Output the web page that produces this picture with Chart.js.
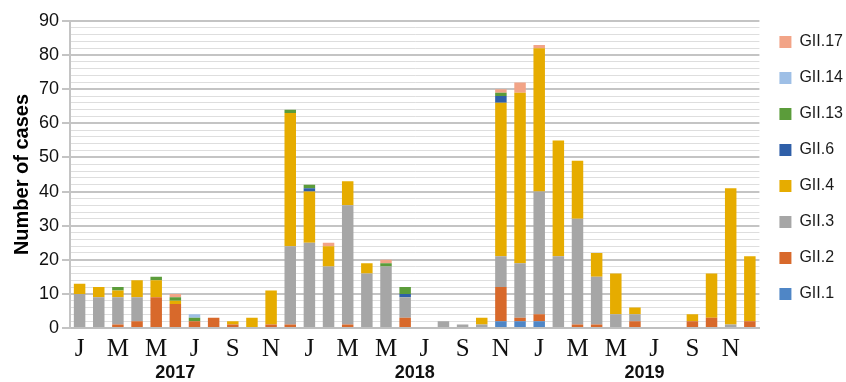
<!DOCTYPE html>
<html><head><meta charset="utf-8">
<script src="https://cdn.jsdelivr.net/npm/chart.js@4.4.1/dist/chart.umd.min.js"></script>
<style>html,body{margin:0;padding:0;background:#fff}#wrap{width:846px;height:382px;position:relative}</style>
</head><body><div id="wrap"><canvas id="c" width="846" height="382"></canvas></div>
<script>
const categories = ['J','F','M','A','M','J','J','A','S','O','N','D',
                    'J','F','M','A','M','J','J','A','S','O','N','D',
                    'J','F','M','A','M','J','J','A','S','O','N','D'];
const years = ['2017','2018','2019'];
const yTicks = [0,10,20,30,40,50,60,70,80,90];

const gii1  = [0,0,0,0,0,0,0,0,0,0,0,0,  0,0,0,0,0,0,0,0,0,0,2,2,  2,0,0,0,0,0,0,0,0,0,0,0];
const gii2  = [0,0,1,2,9,7,2,3,1,0,1,1,  0,0,1,0,0,3,0,0,0,0,10,1, 2,0,1,1,0,2,0,0,2,3,0,2];
const gii3  = [10,9,8,7,0,0,0,0,0,0,0,23, 25,18,35,16,18,6,0,2,1,1,9,16, 36,21,31,14,4,2,0,0,0,0,1,0];
const gii4  = [3,3,2,5,5,1,0,0,1,3,10,39, 15,6,7,3,0,0,0,0,0,2,45,50, 42,34,17,7,12,2,0,0,2,13,40,19];
const gii6  = [0,0,0,0,0,0,0,0,0,0,0,0,  1,0,0,0,0,1,0,0,0,0,2,0,  0,0,0,0,0,0,0,0,0,0,0,0];
const gii13 = [0,0,1,0,1,1,1,0,0,0,0,1,  1,0,0,0,1,2,0,0,0,0,1,0,  0,0,0,0,0,0,0,0,0,0,0,0];
const gii14 = [0,0,0,0,0,0,1,0,0,0,0,0,  0,0,0,0,0,0,0,0,0,0,0,0,  0,0,0,0,0,0,0,0,0,0,0,0];
const gii17 = [0,0,0,0,0,1,0,0,0,0,0,0,  0,1,0,0,1,0,0,0,0,0,1,3,  1,0,0,0,0,0,0,0,0,0,0,0];

const seriesNames = ['GII.1','GII.2','GII.3','GII.4','GII.6','GII.13','GII.14','GII.17'];
const seriesData = [gii1, gii2, gii3, gii4, gii6, gii13, gii14, gii17];
const seriesColors = ['#4f86c6','#d8692b','#a6a6a6','#e6ac00','#2f5fa8','#5b9c3a','#9ebfe6','#f2a487'];

const yearPos = [5, 17.5, 29.5];

const datasets = seriesNames.map((n,i)=>({
  label:n, data:seriesData[i], backgroundColor:seriesColors[i], borderWidth:0,
  categoryPercentage:1.0, barPercentage:0.6, xAxisID:'x', yAxisID:'y'
}));

const clear = 'rgba(0,0,0,0)';

new Chart(document.getElementById('c'), {
  type:'bar',
  data:{labels:categories, datasets},
  options:{
    responsive:false, animation:false,
    layout:{padding:{top:21,right:-7,left:0,bottom:2}},
    plugins:{
      tooltip:{enabled:false},
      legend:{
        position:'right', reverse:true, align:'start', fullSize:true,
        title:{display:true, text:'', padding:{top:0, bottom:-8}, font:{size:1, lineHeight:1}},
        labels:{boxWidth:12, boxHeight:12, padding:20, color:'#1a1a1a',
          font:{family:'"Liberation Sans", Arial, sans-serif', size:16}}
      }
    },
    scales:{
      x:{
        stacked:true, position:'bottom', weight:0,
        grid:{display:true, drawOnChartArea:false, drawTicks:true, tickLength:12, color:clear, tickColor:clear},
        border:{display:true, color:'#bfbfbf', width:2},
        ticks:{autoSkip:false, maxRotation:0, minRotation:0, padding:0, color:'#111',
          font:{family:'"Liberation Serif", "Times New Roman", serif', size:25, lineHeight:0.72},
          callback:(v,i)=> i%2===0 ? categories[i] : ''}
      },
      yr:{
        type:'linear', position:'bottom', weight:1, min:-0.5, max:35.5,
        offset:false, bounds:'data',
        grid:{display:true, drawOnChartArea:false, drawTicks:true, tickLength:8, color:clear, tickColor:clear, offset:false},
        border:{display:false},
        afterBuildTicks:(ax)=>{ ax.ticks = yearPos.map(v=>({value:v})); },
        ticks:{autoSkip:false, maxRotation:0, padding:0, color:'#111',
          font:{family:'"Liberation Sans", Arial, sans-serif', size:18, weight:'bold', lineHeight:0.7778},
          callback:(v)=>{ const k = yearPos.indexOf(v); return k>=0 ? years[k] : ''; }}
      },
      y:{
        stacked:true, min:0, max:90,
        grid:{
          color:(c)=> c.tick && c.tick.value%10===0 ? '#c4c4c4' : '#dedede',
          lineWidth:(c)=> c.tick && c.tick.value%10===0 ? 2 : 1,
          tickColor:(c)=> c.tick && c.tick.value%10===0 ? '#c4c4c4' : clear,
          tickLength:8
        },
        border:{display:true, color:'#c4c4c4', width:2},
        ticks:{stepSize:2, autoSkip:false, padding:3, color:'#111',
          font:{family:'"Liberation Sans", Arial, sans-serif', size:18},
          callback:(v)=> yTicks.includes(v) ? String(v) : ''},
        title:{display:true, text:'Number of cases', color:'#000',
          font:{family:'"Liberation Sans", Arial, sans-serif', size:20, weight:'bold', lineHeight:1.2},
          padding:{top:10, bottom:2}}
      }
    }
  }
});
</script></body></html>
